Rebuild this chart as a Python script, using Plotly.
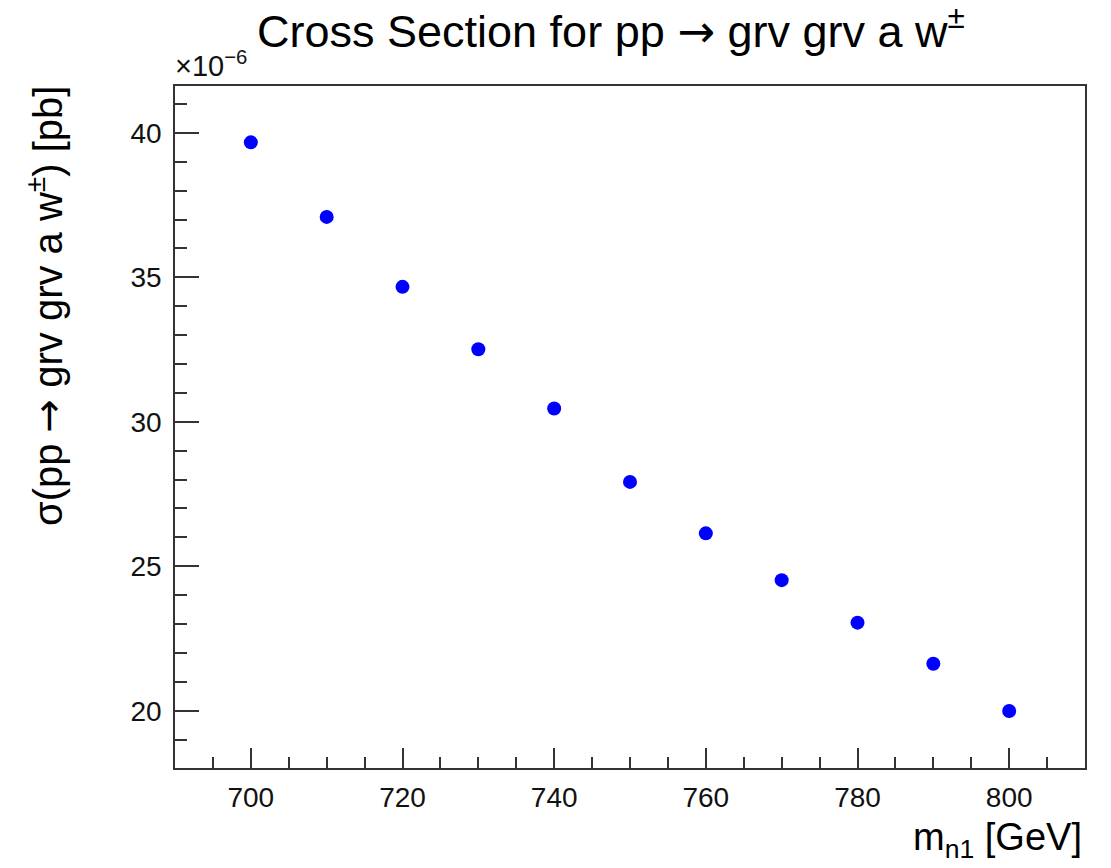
import plotly.graph_objects as go

# Signal mass points [GeV] and cross sections (in units of 1e-6 pb)
mass_gev = [700, 710, 720, 730, 740, 750, 760, 770, 780, 790, 800]
xsec_1e6_pb = [39.67, 37.09, 34.67, 32.51, 30.46, 27.92, 26.14, 24.52, 23.05, 21.63, 19.99]

x_range = [690, 810]
y_range = [18.02, 41.62]

FONT = "Liberation Sans, Arial, Helvetica, sans-serif"
ARROW = '<span style="font-family:DejaVu Sans">\u2192</span>'

W, H = 1111, 868
ML, MR, MT, MB = 175, 26, 86, 100
plot_h = H - MT - MB


def py(px):
    """Pixel row (from top) -> paper y coordinate."""
    return (H - MB - px) / plot_h


def px_x(px):
    """Pixel column -> paper x coordinate."""
    return (px - ML) / (W - ML - MR)


fig = go.Figure()
fig.add_trace(
    go.Scatter(
        x=mass_gev,
        y=xsec_1e6_pb,
        mode="markers",
        marker=dict(color="#0000ff", size=14, symbol="circle", line=dict(width=0)),
        showlegend=False,
        hoverinfo="x+y",
    )
)

axis_common = dict(
    showline=True,
    linecolor="#333333",
    linewidth=1.5,
    mirror=True,
    showgrid=False,
    zeroline=False,
    ticks="inside",
    tickcolor="#333333",
    tickwidth=1.5,
    tickfont=dict(family=FONT, size=28, color="#111111"),
)

fig.update_xaxes(
    range=x_range,
    tick0=700,
    dtick=20,
    ticklen=20,
    ticklabelstandoff=4,
    minor=dict(ticks="inside", dtick=5, ticklen=11, tickcolor="#333333", tickwidth=1.5, showgrid=False),
    **axis_common,
)
fig.update_yaxes(
    range=y_range,
    tick0=20,
    dtick=5,
    ticklen=24,
    ticklabelstandoff=6,
    minor=dict(ticks="inside", dtick=1, ticklen=12, tickcolor="#333333", tickwidth=1.5, showgrid=False),
    **axis_common,
)

annotations = [
    # main title
    dict(
        text=f"Cross Section for pp {ARROW} grv grv a w<sup>\u00b1</sup>",
        xref="paper", yref="paper",
        x=px_x(611), y=py(28),
        xanchor="center", yanchor="middle",
        showarrow=False,
        font=dict(family=FONT, size=45, color="#000000"),
    ),
    # x-axis title, right aligned
    dict(
        text="m<sub>n1</sub> [GeV]",
        xref="paper", yref="paper",
        x=px_x(1084), y=py(840),
        xanchor="right", yanchor="middle",
        showarrow=False,
        font=dict(family=FONT, size=38, color="#000000"),
    ),
    # y-axis title, aligned to the top of the axis
    dict(
        text=f"\u03c3(pp {ARROW} grv grv a w<sup>\u00b1</sup>) [pb]",
        xref="paper", yref="paper",
        x=px_x(45), y=py(84),
        xanchor="center", yanchor="top",
        textangle=-90,
        showarrow=False,
        font=dict(family=FONT, size=40, color="#000000"),
    ),
    # common exponent of the y axis
    dict(
        text="\u00d710<sup>\u22126</sup>",
        xref="paper", yref="paper",
        x=px_x(173), y=py(84),
        xanchor="left", yanchor="bottom",
        showarrow=False,
        font=dict(family=FONT, size=29, color="#111111"),
    ),
]

fig.update_layout(
    width=W,
    height=H,
    autosize=False,
    margin=dict(l=ML, r=MR, t=MT, b=MB),
    paper_bgcolor="#ffffff",
    plot_bgcolor="#ffffff",
    annotations=annotations,
    showlegend=False,
)

fig.write_html("out.html")
